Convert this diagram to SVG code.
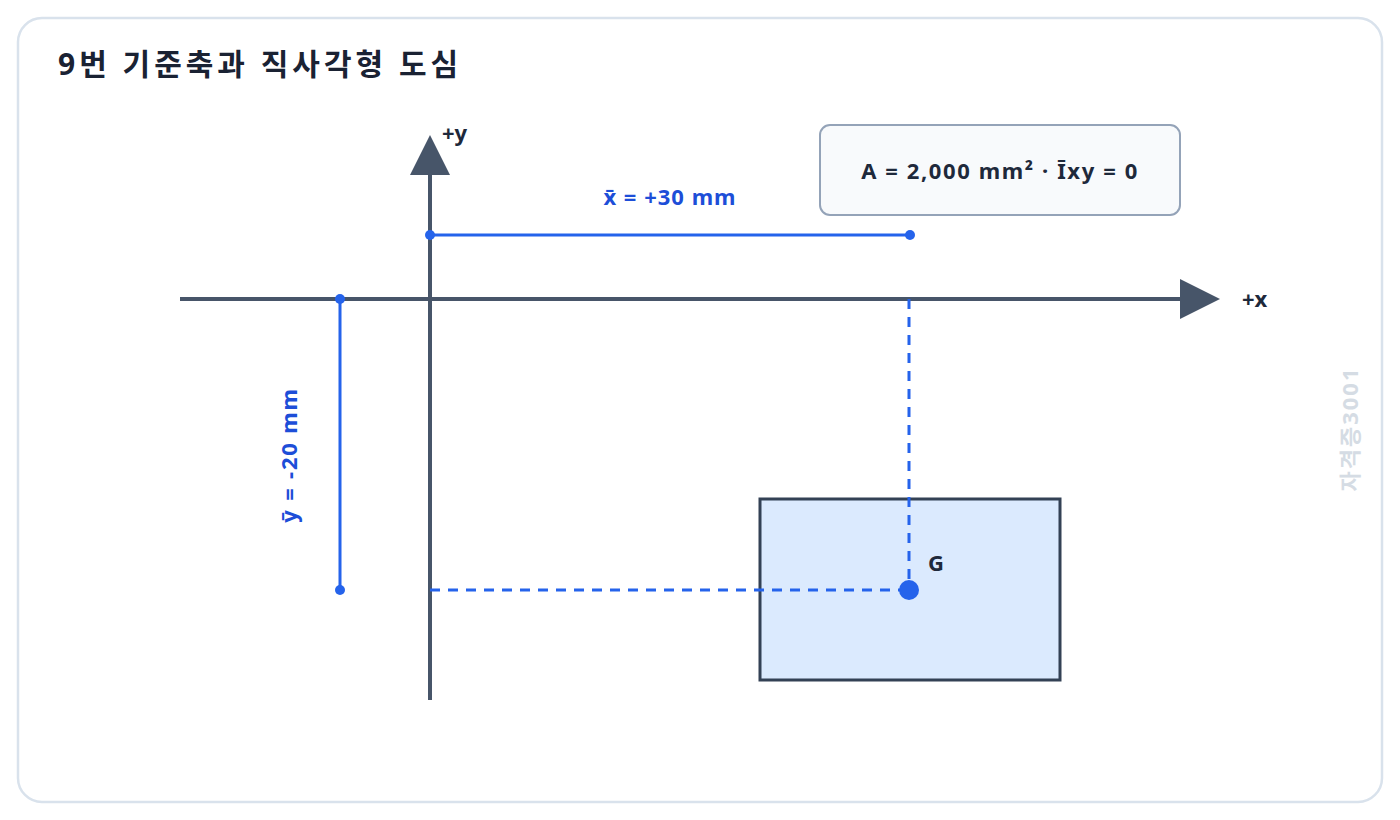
<svg xmlns="http://www.w3.org/2000/svg" width="1400" height="820" viewBox="0 0 1400 820">
<style>
text{font-family:"Noto Sans","Noto Sans CJK KR",sans-serif;font-weight:700}
.axis{stroke:#475569;stroke-width:4;fill:none}
.dim{stroke:#2563eb;stroke-width:3;fill:none}
.dash{stroke:#2563eb;stroke-width:3;fill:none;stroke-dasharray:10 8}
.dot{fill:#2563eb}
.blue{fill:#1d4ed8;font-size:22px;letter-spacing:1px}
.dark{fill:#1e293b;font-size:22px}
</style>
<rect x="18" y="18" width="1364" height="784" rx="24" fill="#ffffff" stroke="#d9e2ec" stroke-width="2.5"/>
<text x="58" y="75" style="font-size:30px;fill:#1a2233;letter-spacing:4px">9번 기준축과 직사각형 도심</text>
<g id="rectangle">
<rect x="760" y="499" width="300" height="181" fill="#dbeafe" stroke="#334155" stroke-width="3"/>
</g>
<g id="connectors">
<line class="axis" x1="180" y1="299" x2="1185" y2="299"/>
<polygon points="1180,279 1220,299 1180,319" fill="#475569"/>
<line class="axis" x1="430" y1="700" x2="430" y2="170"/>
<polygon points="410,175 430,135 450,175" fill="#475569"/>
<line class="dash" x1="909" y1="299" x2="909" y2="590"/>
<line class="dash" x1="430" y1="590" x2="909" y2="590"/>
<line class="dim" x1="430" y1="235" x2="910" y2="235"/>
<circle class="dot" cx="430" cy="235" r="5"/>
<circle class="dot" cx="910" cy="235" r="5"/>
<line class="dim" x1="340" y1="299" x2="340" y2="590"/>
<circle class="dot" cx="340" cy="299" r="5"/>
<circle class="dot" cx="340" cy="590" r="5"/>
</g>
<g id="axis-labels">
<text class="dark" x="1242" y="307">+x</text>
<text class="dark" x="442" y="141">+y</text>
</g>
<g id="dim-labels">
<text class="blue" x="670" y="205" text-anchor="middle">x̄ =  +30 mm</text>
<text class="blue" x="0" y="0" text-anchor="middle" transform="translate(297,455) rotate(-90)" style="letter-spacing:1.8px">ȳ =  -20 mm</text>
</g>
<g id="centroid">
<circle class="dot" cx="909" cy="590" r="10"/>
<text class="dark" x="928" y="571">G</text>
</g>
<g id="info">
<rect x="820" y="125" width="360" height="90" rx="10" fill="#f8fafc" stroke="#94a3b8" stroke-width="2"/>
<text class="dark" x="1000" y="179" text-anchor="middle" style="font-size:22px;letter-spacing:1.6px">A = 2,000 mm² · Īxy = 0</text>
</g>
<text x="0" y="0" text-anchor="middle" transform="translate(1358,429) rotate(-90)" style="font-size:22px;fill:#d5dce4;letter-spacing:2px">자격증3001</text>
</svg>
